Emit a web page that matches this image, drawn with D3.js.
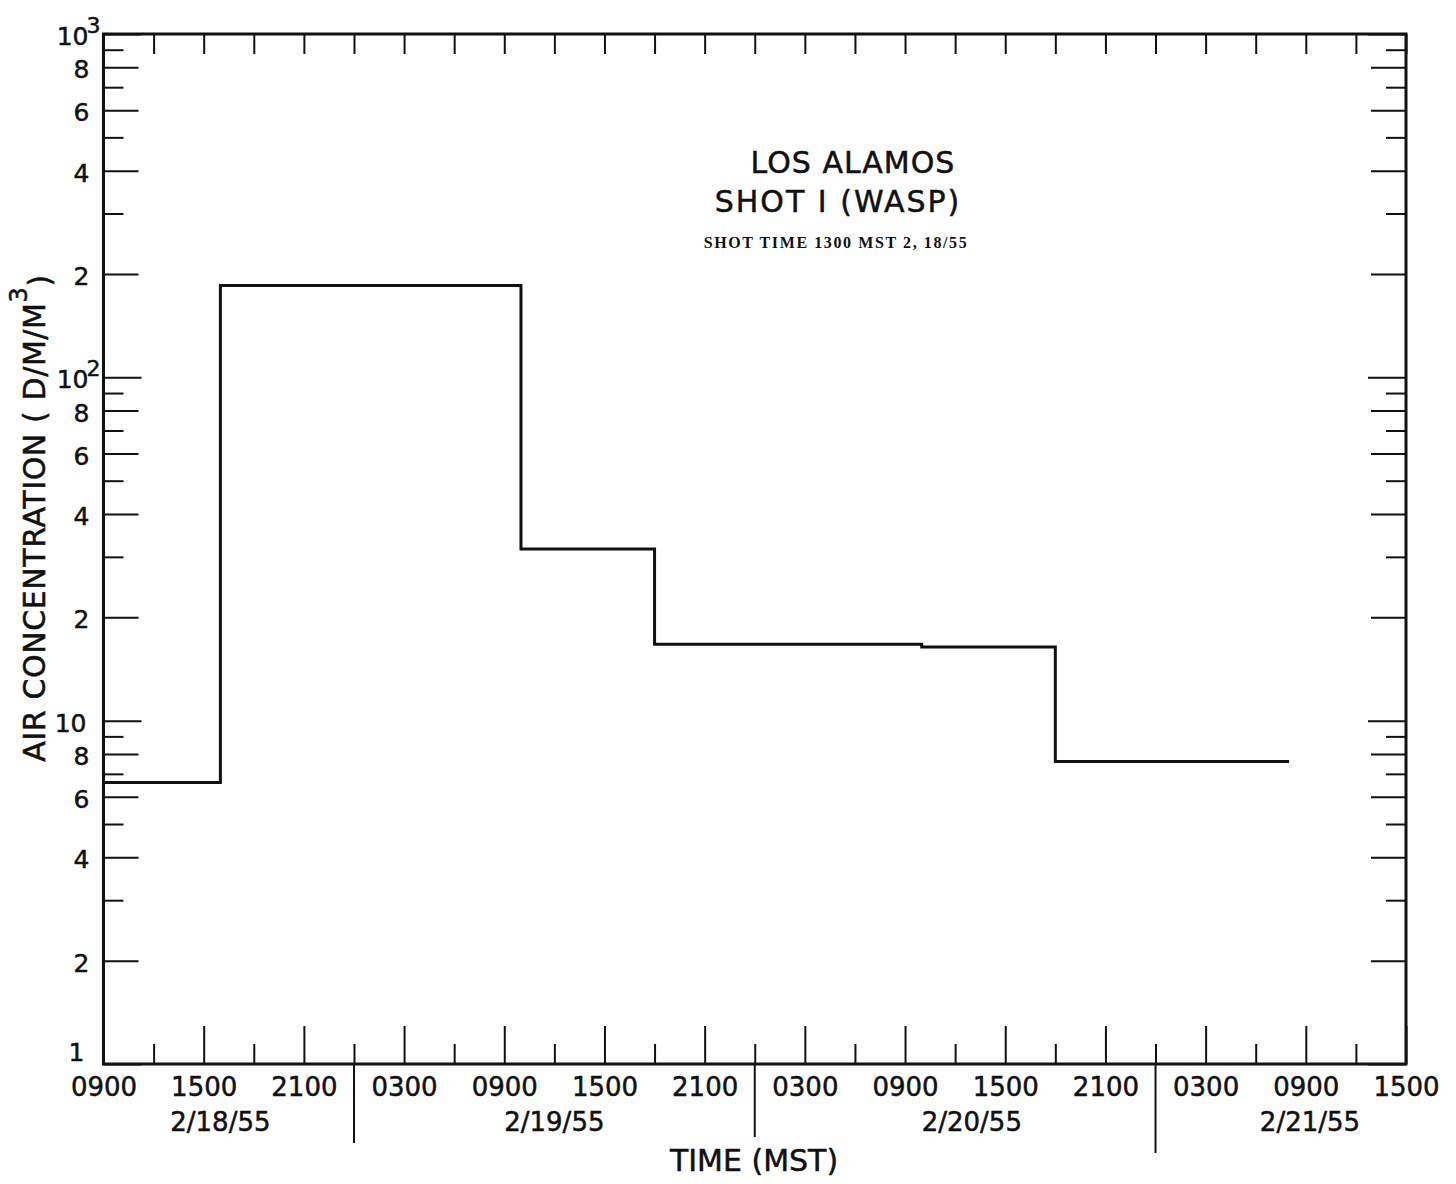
<!DOCTYPE html>
<html>
<head>
<meta charset="utf-8">
<script src="https://cdn.jsdelivr.net/npm/d3@7"></script>
<style>
  body { margin: 0; background: #fff; }
  svg { display: block; }
  text { font-family: "DejaVu Sans", sans-serif; fill: #111; stroke: #111; stroke-width: 0.5px; }
</style>
</head>
<body>
<svg id="chart" width="1456" height="1184"></svg>
<script>
// step data: concentration holds from each time until the next
const stepTimes = ["1955-02-18T09:00", "1955-02-18T16:00", "1955-02-19T10:00", "1955-02-19T18:00",
                   "1955-02-20T10:00", "1955-02-20T18:00", "1955-02-21T08:00"];
const stepValues = [6.6, 185, 31.6, 16.7, 16.4, 7.6];

// axis stuff
const timeStart = "1955-02-18T09:00";
const timeEnd = "1955-02-21T15:00";
const hourLabels = ["0900", "1500", "2100", "0300"];
const dayBreaks = ["1955-02-19T00:00", "1955-02-20T00:00", "1955-02-21T00:00"];
const dateLabels = ["2/18/55", "2/19/55", "2/20/55", "2/21/55"];
const dateLabelTimes = ["1955-02-18T16:00", "1955-02-19T12:00", "1955-02-20T13:00", "1955-02-21T09:15"];
const yDecades = [1, 10, 100, 1000];

const titleLines = ["LOS ALAMOS", "SHOT  I  (WASP)"];
const subTitle = "SHOT TIME 1300 MST 2, 18/55";

const parse = s => new Date(s + ":00Z");

const svg = d3.select("#chart");
const pLeft = 103.5, pRight = 1406, pTop = 34, pBottom = 1064;

const x = d3.scaleUtc().domain([parse(timeStart), parse(timeEnd)]).range([pLeft, pRight]);
const y = d3.scaleLog().domain([1, 1000]).range([pBottom, pTop]);

// ticks every 3 hours
const xTicks = d3.utcHour.every(3).range(parse(timeStart), d3.utcHour.offset(parse(timeEnd), 1));
const fmtHour = d3.utcFormat("%H%M");
const isLabelled = d => hourLabels.includes(fmtHour(d));

// bottom axis, ticks pointing up into the plot
const xAxis = svg.append("g")
  .attr("transform", `translate(0,${pBottom})`)
  .call(d3.axisBottom(x)
    .tickValues(xTicks)
    .tickSizeInner(-1)
    .tickSizeOuter(0)
    .tickPadding(14)
    .tickFormat(d => isLabelled(d) ? fmtHour(d) : ""));
xAxis.select(".domain").remove();
xAxis.selectAll(".tick line")
  .attr("y2", d => isLabelled(d) ? -38 : -20)
  .attr("stroke", "#111").attr("stroke-width", 2);
xAxis.selectAll(".tick text")
  .attr("dy", "0.71em")
  .style("font-size", "26px");

// top ticks
svg.append("g")
  .attr("transform", `translate(0,${pTop})`)
  .call(d3.axisTop(x).tickValues(xTicks).tickSizeInner(-20).tickSizeOuter(0).tickFormat(""))
  .call(g => g.select(".domain").remove())
  .selectAll(".tick line").attr("stroke", "#111").attr("stroke-width", 2);

// day separators below the axis
svg.append("g").selectAll("line")
  .data(dayBreaks.map(parse))
  .join("line")
  .attr("x1", d => x(d)).attr("x2", d => x(d))
  .attr("y1", pBottom).attr("y2", (d, i) => [1143, 1137, 1153][i])
  .attr("stroke", "#111").attr("stroke-width", 2);

svg.append("g").selectAll("text")
  .data(dateLabels)
  .join("text")
  .attr("x", (d, i) => x(parse(dateLabelTimes[i])))
  .attr("y", 1131)
  .attr("text-anchor", "middle")
  .style("font-size", "26px")
  .text(d => d);

svg.append("text")
  .attr("x", 754).attr("y", 1171)
  .attr("text-anchor", "middle")
  .style("font-size", "30px")
  .text("TIME (MST)");

// y axis: log scale, tick length by mantissa
const mant = d => Math.round(d / Math.pow(10, Math.floor(Math.log10(d) + 1e-9)));
const yTickLen = d => mant(d) === 1 ? 38 : (mant(d) % 2 === 0 ? 35 : 20);
const yTicks = y.ticks();
const isDecade = d => yDecades.includes(d);

const yAxis = svg.append("g")
  .attr("transform", `translate(${pLeft},0)`)
  .call(d3.axisLeft(y)
    .tickValues(yTicks)
    .tickSizeInner(-1)
    .tickSizeOuter(0)
    .tickPadding(14)
    .tickFormat(d => {
      if (isDecade(d)) return d >= 100 ? "10" : String(d);
      const m = mant(d);
      return m % 2 === 0 ? String(m) : "";
    }));
yAxis.select(".domain").remove();
yAxis.selectAll(".tick line")
  .attr("x2", d => yTickLen(d))
  .attr("stroke", "#111").attr("stroke-width", 2);
yAxis.selectAll(".tick text")
  .style("font-size", "25px")
  .attr("dy", d => d === 1 ? "-0.15em" : "0.42em")
  .attr("x", d => isDecade(d) && d >= 100 ? -3 : (d === 1 ? -19 : (d === 10 ? -17 : -14)))
  .each(function(d) {
    if (isDecade(d) && d >= 100) {
      d3.select(this).append("tspan")
        .attr("dy", "-0.55em")
        .attr("dx", "-2")
        .style("font-size", "22px")
        .text(Math.round(Math.log10(d)));
    }
  });

// right ticks pointing in
svg.append("g")
  .attr("transform", `translate(${pRight},0)`)
  .call(d3.axisRight(y).tickValues(yTicks).tickSizeInner(-1).tickSizeOuter(0).tickFormat(""))
  .call(g => g.select(".domain").remove())
  .selectAll(".tick line")
  .attr("x2", d => -yTickLen(d))
  .attr("stroke", "#111").attr("stroke-width", 2);

// frame
svg.append("rect")
  .attr("x", pLeft).attr("y", pTop)
  .attr("width", pRight - pLeft).attr("height", pBottom - pTop)
  .attr("fill", "none").attr("stroke", "#111").attr("stroke-width", 3);

// y title
const yTitle = svg.append("text")
  .attr("transform", "translate(45,518) rotate(-90)")
  .attr("text-anchor", "middle")
  .style("font-size", "30px")
  .style("letter-spacing", "0.6px");
yTitle.append("tspan").text("AIR  CONCENTRATION ( D/M/M");
yTitle.append("tspan").attr("dy", "-0.75em").style("font-size", "24px").text("3");
yTitle.append("tspan").attr("dy", "0.75em").text(")");

// the step line
const pts = stepValues.map((v, i) => [parse(stepTimes[i]), v]);
pts.push([parse(stepTimes[stepTimes.length - 1]), stepValues[stepValues.length - 1]]);
svg.append("path")
  .datum(pts)
  .attr("fill", "none")
  .attr("stroke", "#111")
  .attr("stroke-width", 3)
  .attr("d", d3.line().x(d => x(d[0])).y(d => y(d[1])).curve(d3.curveStepAfter));

// titles
svg.append("g").selectAll("text")
  .data(titleLines)
  .join("text")
  .attr("x", (d, i) => i === 0 ? 853 : 838)
  .attr("y", (d, i) => 173 + i * 39)
  .attr("text-anchor", "middle")
  .style("font-size", "30px")
  .style("letter-spacing", (d, i) => i === 0 ? "1px" : "2px")
  .text(d => d);

svg.append("text")
  .attr("x", 836).attr("y", 248)
  .attr("text-anchor", "middle")
  .style("font-family", "'Liberation Serif', serif")
  .style("font-weight", "bold")
  .style("font-size", "16px")
  .style("stroke-width", "0")
  .style("letter-spacing", "1.6px")
  .text(subTitle);
</script>
</body>
</html>
